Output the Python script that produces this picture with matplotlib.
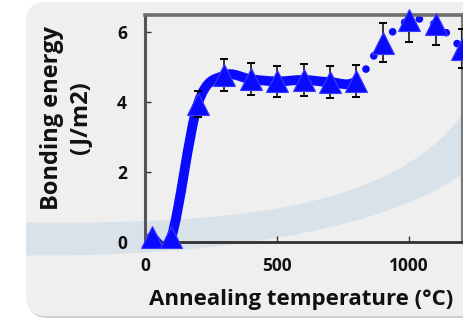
import numpy as np
import matplotlib
matplotlib.use("Agg")
import matplotlib.pyplot as plt
from matplotlib.path import Path
from matplotlib.patches import PathPatch, FancyBboxPatch
from matplotlib.transforms import IdentityTransform

# ── data ──────────────────────────────────────────────────────────────────────
temps = [25, 100, 200, 300, 400, 500, 600, 700, 800, 900, 1000, 1100, 1200]
energy = [0.15, 0.15, 3.95, 4.77, 4.66, 4.60, 4.64, 4.58, 4.61, 5.71, 6.35, 6.23, 5.54]
err = [0, 0, 0.37, 0.46, 0.46, 0.45, 0.47, 0.47, 0.47, 0.56, 0.63, 0.60, 0.55]
solid_last = 800          # solid smooth line up to here, dotted after

x_ticks = [0, 500, 1000]
y_ticks = [0, 2, 4, 6]

BLUE = "#0a0aff"
FONT = ["Open Sans", "DejaVu Sans"]
W, H = 463, 321


def smooth_path(xs, ys, i0, i1):
    """Catmull-Rom style bezier through points i0..i1 (Excel 'smoothed line')."""
    pts = np.column_stack([xs, ys]).astype(float)
    n = len(pts)
    verts, codes = [pts[i0]], [Path.MOVETO]
    for i in range(i0, i1):
        p_prev = pts[max(i - 1, 0)]
        p_next2 = pts[min(i + 2, n - 1)]
        c1 = pts[i] + (pts[i + 1] - p_prev) / 6
        c2 = pts[i + 1] - (p_next2 - pts[i]) / 6
        verts += [c1, c2, pts[i + 1]]
        codes += [Path.CURVE4] * 3
    return Path(verts, codes)


def px(x, y):
    """pixel coords measured from top-left -> display coords"""
    return (x, H - y)


fig = plt.figure(figsize=(W / 100, H / 100), dpi=100)
fig.patch.set_facecolor("white")

# ── slide background: rounded panel + swoosh ─────────────────────────────────
shadow = FancyBboxPatch(px(28, 318), 520, 314, boxstyle="round,pad=0,rounding_size=20",
                        transform=IdentityTransform(), facecolor="#cfcfcf",
                        edgecolor="none", zorder=-3)
panel = FancyBboxPatch(px(26, 316), 520, 314, boxstyle="round,pad=0,rounding_size=20",
                       transform=IdentityTransform(), facecolor="#efefef",
                       edgecolor="none", zorder=-2)
fig.patches += [shadow, panel]

upper = [px(0, 222), px(230, 226), px(400, 212), px(470, 104)]
lower = [px(470, 168), px(400, 225), px(230, 260), px(0, 255)]
band_path = Path(upper + lower + [px(0, 222)],
                 [Path.MOVETO, Path.CURVE4, Path.CURVE4, Path.CURVE4,
                  Path.LINETO, Path.CURVE4, Path.CURVE4, Path.CURVE4,
                  Path.CLOSEPOLY])
band = PathPatch(band_path, transform=IdentityTransform(), facecolor="#d9e2e9",
                 edgecolor="none", zorder=-1)
band.set_clip_path(panel)
fig.patches.append(band)

# ── axes ──────────────────────────────────────────────────────────────────────
ax = fig.add_axes([145 / W, 1 - 242 / H, (462 - 145) / W, (242 - 15) / H])
ax.set_facecolor("none")
ax.set_xlim(0, 1200)
ax.set_ylim(0, 6.5)

# smooth solid part and dotted continuation
i_split = temps.index(solid_last)
solid = PathPatch(smooth_path(temps, energy, 0, i_split), fill=False,
                  edgecolor=BLUE, lw=7, capstyle="round", joinstyle="round", zorder=2)
ax.add_patch(solid)
dotted = PathPatch(smooth_path(temps, energy, i_split, len(temps) - 1), fill=False,
                   edgecolor=BLUE, lw=5.5, linestyle=(0, (0.01, 2.0)),
                   capstyle="round", zorder=2)
dotted.set_clip_on(False)
ax.add_patch(dotted)

ax.errorbar(temps, energy, yerr=err, fmt="none", ecolor="black", elinewidth=1.1,
            capsize=3, capthick=1.4, zorder=3)
ax.plot(temps, energy, ls="none", marker="^", ms=16, color=BLUE,
        markeredgecolor="#3a3aff", markeredgewidth=0.8, zorder=4, clip_on=False)

# spines
ax.spines["left"].set_color("#555555")
ax.spines["left"].set_linewidth(2.2)
ax.spines["top"].set_color("#6e6e6e")
ax.spines["top"].set_linewidth(2.6)
ax.spines["right"].set_color("#7a7a7a")
ax.spines["right"].set_linewidth(1.6)
ax.spines["bottom"].set_color("#303030")
ax.spines["bottom"].set_linewidth(2.0)

ax.set_xticks(x_ticks)
ax.set_yticks(y_ticks)
ax.tick_params(direction="in", length=4, width=1, color="#333333")
ax.tick_params(axis="x", pad=11)
ax.tick_params(axis="y", pad=13)
for lab in ax.get_xticklabels() + ax.get_yticklabels():
    lab.set_family(FONT)
    lab.set_fontweight("bold")
    lab.set_fontsize(12.5)
    lab.set_color("#111111")

fig.text(301 / W, 1 - 305 / H, "Annealing temperature (°C)", ha="center",
         va="baseline", family=FONT, fontweight="bold", fontsize=16, color="#111111")
fig.text(66 / W, 1 - 118 / H, "Bonding energy\n(J/m2)", ha="center", va="center",
         rotation=90, multialignment="center", family=FONT, fontweight="bold",
         fontsize=17, color="#111111", linespacing=1.25)

fig.savefig("out.png", dpi=100, facecolor=fig.get_facecolor())
